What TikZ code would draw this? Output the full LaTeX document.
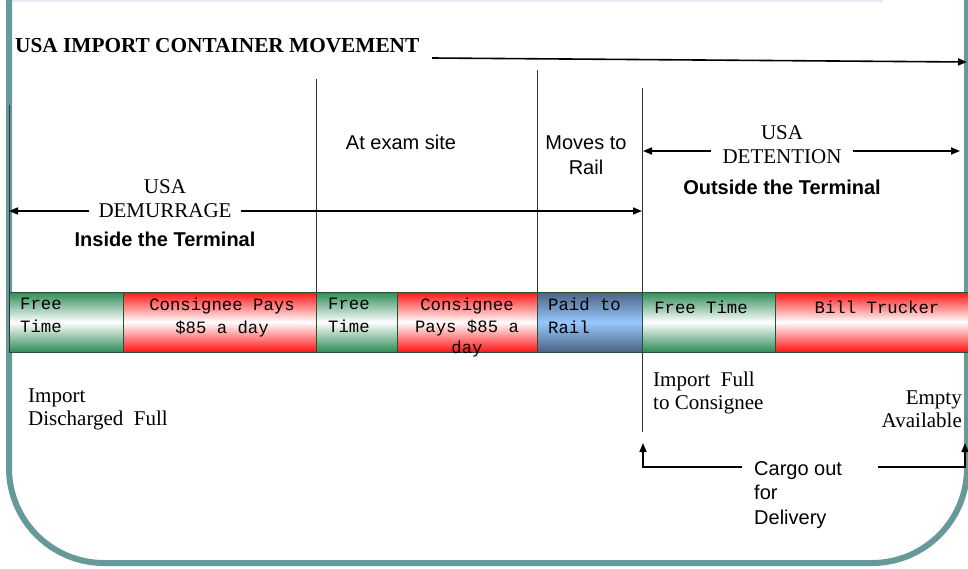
\documentclass[tikz,border=0pt]{standalone}
\usepackage{fontspec}
\setmainfont{Liberation Serif}
\setsansfont{Liberation Sans}
\setmonofont{Liberation Mono}
\usetikzlibrary{arrows.meta}

\definecolor{frameteal}{RGB}{102,153,153}
\definecolor{toprule}{RGB}{232,232,245}
\definecolor{greenedge}{RGB}{46,139,87}
\definecolor{rededge}{RGB}{255,20,20}
\definecolor{blueedge}{RGB}{75,98,130}
\definecolor{bluemid}{RGB}{150,200,255}
\definecolor{cellline}{RGB}{40,80,50}

\tikzset{
  arr/.style={line width=1.6pt, -{Triangle[length=9pt,width=7pt]}},
  divider/.style={line width=0.8pt, black!80},
  cell/.style={draw=cellline, line width=0.8pt, minimum height=60pt, anchor=north west, inner sep=0pt, outer sep=0pt},
  freecell/.style={cell, top color=greenedge, bottom color=greenedge, middle color=white},
  paycell/.style={cell, top color=rededge, bottom color=rededge, middle color=white},
  railcell/.style={cell, top color=blueedge, bottom color=blueedge, middle color=bluemid},
  celltext/.style={font=\ttfamily\fontsize{17.3}{23}\selectfont, inner sep=0pt, anchor=north},
  serif/.style={font=\fontsize{21}{24}\selectfont, inner sep=0pt},
  sans/.style={font=\sffamily\fontsize{20}{24.5}\selectfont, inner sep=0pt},
  sansbold/.style={font=\sffamily\bfseries\fontsize{20}{24}\selectfont, inner sep=0pt}
}

\begin{document}
\begin{tikzpicture}[x=1pt, y=-1pt]
  \useasboundingbox (0,0) rectangle (968,568);
  \clip (0,0) rectangle (968,568);
  % slide frame
  \draw[toprule, line width=1.5pt] (12,0.75) -- (883,0.75);
  \draw[frameteal, line width=6pt, rounded corners=95pt] (9,-20) -- (9,563) -- (967,563) -- (967,-20);

  % title
  \node[serif, font=\bfseries\fontsize{21.3}{24}\selectfont, anchor=west] (title) at (15,46) {USA IMPORT CONTAINER MOVEMENT};
  \coordinate (moveA) at (432,58);
  \coordinate (moveB) at (967,62);
  \draw[arr] (moveA) -- (moveB);

  % bar
  \node[freecell, minimum width=114pt] (free1) at (9,292) {};
  \node[paycell, minimum width=193pt] (pay1) at (123,292) {};
  \node[freecell, minimum width=81pt] (free2) at (316,292) {};
  \node[paycell, minimum width=140pt] (pay2) at (397,292) {};
  \node[railcell, minimum width=105pt] (rail) at (537,292) {};
  \node[freecell, minimum width=133pt] (free3) at (642,292) {};
  \node[paycell, minimum width=200pt] (truck) at (775,292) {};

  \node[celltext, anchor=north west, align=left] (free1t) at (20,298) {Free\\Time};
  \node[celltext, align=center] (pay1t) at (222,298) {Consignee Pays\\\$85 a day};
  \node[celltext, anchor=north west, align=left] (free2t) at (328,298) {Free\\Time};
  \node[celltext, align=center, font=\ttfamily\fontsize{17.3}{21.5}\selectfont] (pay2t) at (467,298) {Consignee\\Pays \$85 a\\day};
  \node[celltext, anchor=north west, align=left] (railt) at (548,298) {Paid to\\Rail};
  \node[celltext] (free3t) at (701,301) {Free Time};
  \node[celltext] (truckt) at (877,301) {Bill Trucker};

  % dividers
  \coordinate (d0) at (9,105);
  \coordinate (d1) at (316,79);
  \coordinate (d2) at (537,70);
  \coordinate (d3) at (642,88);
  \coordinate (d3b) at (642,432);
  \draw[divider] (d0) -- (free1.south west);
  \draw[divider] (d1) -- (free2.north west);
  \draw[divider] (d2) -- (rail.north west);
  \draw[divider] (d3) -- (free3.north west);
  \draw[divider] (free3.south west) -- (d3b);

  % top labels
  \node[sans] (exam) at (401,142) {At exam site};
  \node[sans, align=center] (moves) at (586,155) {Moves to\\Rail};

  % demurrage
  \node[serif, align=center, inner xsep=9pt] (dem) at (165,199) {USA\\DEMURRAGE};
  \coordinate (demL) at (9,211);
  \coordinate (demR) at (642,211);
  \draw[arr] (dem.west |- demL) -- (demL);
  \draw[arr] (dem.east |- demR) -- (demR);
  \node[sansbold] (inside) at (165,239) {Inside the Terminal};

  % detention
  \node[serif, align=center, inner xsep=11pt] (det) at (782,145) {USA\\DETENTION};
  \coordinate (detL) at (643,151);
  \coordinate (detR) at (960,151);
  \draw[arr] (det.west |- detL) -- (detL);
  \draw[arr] (det.east |- detR) -- (detR);
  \node[sansbold] (outside) at (782,187) {Outside the Terminal};

  % below the bar
  \node[serif, font=\fontsize{21}{23}\selectfont, align=left, anchor=west] (disch) at (28,409) {Import\\Discharged\ \ Full};
  \node[serif, font=\fontsize{21}{23}\selectfont, align=left, anchor=west] (toCons) at (653,393) {Import\ \ Full\\to Consignee};
  \node[serif, font=\fontsize{21}{23}\selectfont, align=right, anchor=east] (empty) at (962,409) {Empty\\Available};

  % cargo out
  \node[sans, align=left, anchor=north west] (cargo) at (754,461) {Cargo out\\for\\Delivery};
  \coordinate (cargoL) at (742,467);
  \coordinate (cargoR) at (878,467);
  \coordinate (fullUp) at (643,443);
  \coordinate (emptyUp) at (965,443);
  \draw[arr] (cargoL) -| (fullUp);
  \draw[arr] (cargoR) -| (emptyUp);
\end{tikzpicture}
\end{document}
